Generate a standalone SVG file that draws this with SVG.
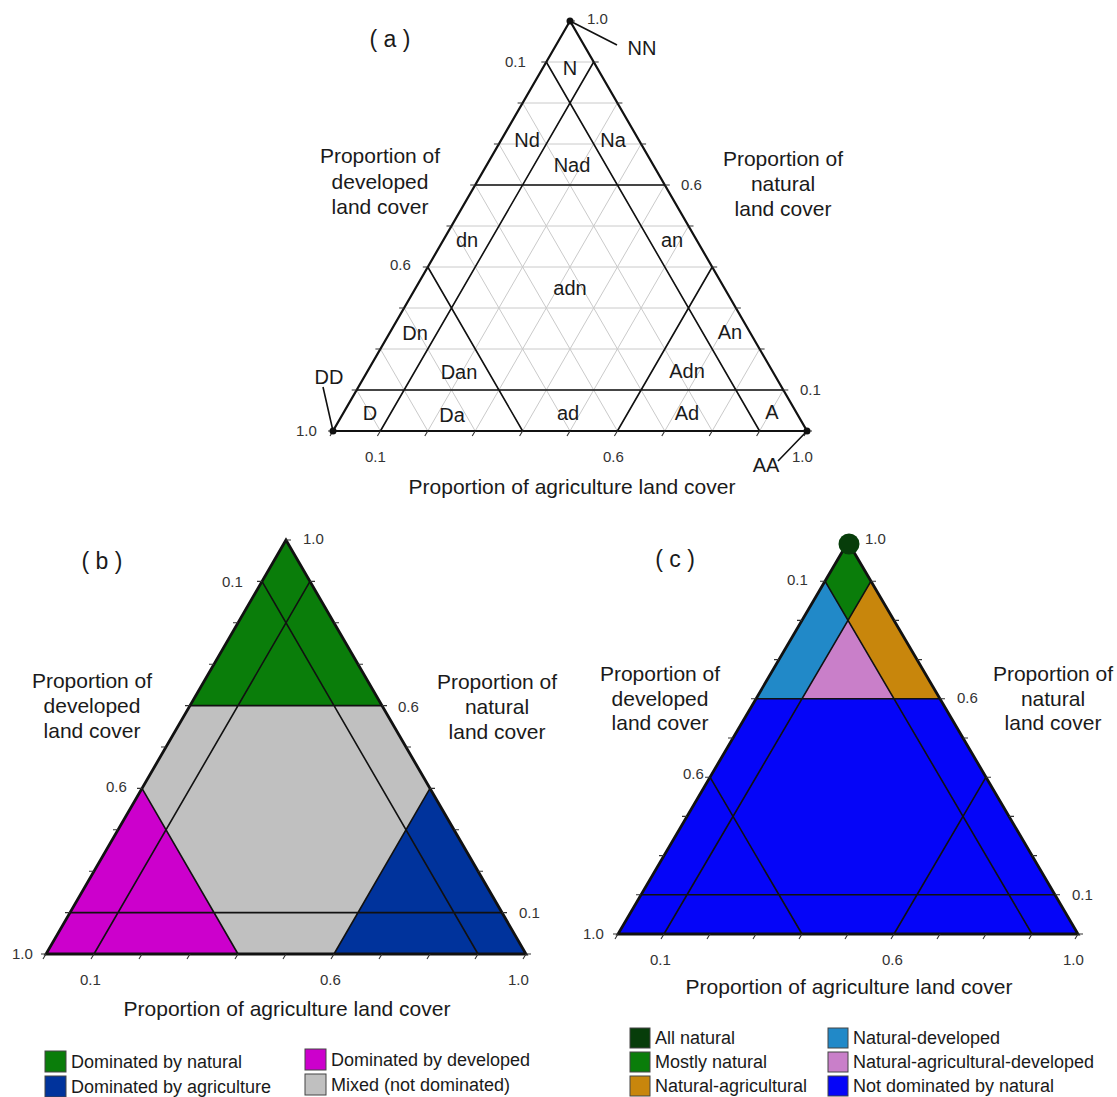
<svg xmlns="http://www.w3.org/2000/svg" width="1117" height="1097" viewBox="0 0 1117 1097">
<style>
text{font-family:"Liberation Sans",Arial,Helvetica,sans-serif;fill:#1a1a1a}
.ax{font-size:21px;text-anchor:middle}
.tk{font-size:15px;fill:#333}
.rg{font-size:20px;text-anchor:middle}
.pl{font-size:23px;text-anchor:middle}
.lg{font-size:18px}
.edge{fill:none;stroke:#111;stroke-width:2.2;stroke-linejoin:miter}
.edge2{fill:none;stroke:#111;stroke-width:2.8;stroke-linejoin:miter}
.div{fill:none;stroke:#111;stroke-width:1.6}
.grid{fill:none;stroke:#cacaca;stroke-width:1}
.tick{fill:none;stroke:#333;stroke-width:1.1}
.lead{fill:none;stroke:#111;stroke-width:1.6}
.box{stroke:#444;stroke-width:1}
</style>
<rect width="1117" height="1097" fill="#ffffff"/>

<!-- ================= Panel (a) ================= -->
<g id="panel-a">
  <g id="a-grid">
    <path class="grid" d="M356.7 390H783.3M380.4 349H759.6M404.1 308H735.9M427.8 267H712.2M451.5 226H688.5M475.2 185H664.8M498.9 144H641.1M522.6 103H617.4M546.3 62H593.7
    M380.4 431L593.7 62M427.8 431L617.4 103M475.2 431L641.1 144M522.6 431L664.8 185M570 431L688.5 226M617.4 431L712.2 267M664.8 431L735.9 308M712.2 431L759.6 349M759.6 431L783.3 390
    M759.6 431L546.3 62M712.2 431L522.6 103M664.8 431L498.9 144M617.4 431L475.2 185M570 431L451.5 226M522.6 431L427.8 267M475.2 431L404.1 308M427.8 431L380.4 349M380.4 431L356.7 390"/>
  </g>
  <g id="a-dividers">
    <path class="div" d="M356.7 390H783.3M475.2 185H664.8M380.4 431L593.7 62M617.4 431L712.2 267M759.6 431L546.3 62M522.6 431L427.8 267"/>
  </g>
  <g id="a-frame">
    <polygon class="edge" points="570,21 333,431 807,431"/>
    <path class="tick" d="M333 431h-5M356.7 390h-5M380.4 349h-5M404.1 308h-5M427.8 267h-5M451.5 226h-5M475.2 185h-5M498.9 144h-5M522.6 103h-5M546.3 62h-5
    M783.3 390h5M759.6 349h5M735.9 308h5M712.2 267h5M688.5 226h5M664.8 185h5M641.1 144h5M617.4 103h5M593.7 62h5M570 21h5M807 431h5
    M333 431l-3 5M380.4 431l-3 5M427.8 431l-3 5M475.2 431l-3 5M522.6 431l-3 5M570 431l-3 5M617.4 431l-3 5M664.8 431l-3 5M712.2 431l-3 5M759.6 431l-3 5M807 431l-3 5"/>
  </g>
  <g id="a-connectors">
    <path class="lead" d="M570 21L617 45M323 387L333 431M807 431L778 461"/>
    <circle cx="570" cy="21" r="3.5" fill="#111"/>
    <circle cx="333" cy="431" r="3.5" fill="#111"/>
    <circle cx="807" cy="431" r="3.5" fill="#111"/>
  </g>
  <g id="a-region-labels">
    <text class="rg" x="570" y="75">N</text>
    <text class="rg" x="527" y="147">Nd</text>
    <text class="rg" x="613" y="147">Na</text>
    <text class="rg" x="572" y="172">Nad</text>
    <text class="rg" x="467" y="247">dn</text>
    <text class="rg" x="672" y="247">an</text>
    <text class="rg" x="570" y="295">adn</text>
    <text class="rg" x="415" y="340">Dn</text>
    <text class="rg" x="730" y="339">An</text>
    <text class="rg" x="459" y="379">Dan</text>
    <text class="rg" x="687" y="378">Adn</text>
    <text class="rg" x="370" y="420">D</text>
    <text class="rg" x="452" y="422">Da</text>
    <text class="rg" x="568" y="420">ad</text>
    <text class="rg" x="687" y="420">Ad</text>
    <text class="rg" x="772" y="419">A</text>
    <text class="rg" x="642" y="55">NN</text>
    <text class="rg" x="329" y="384">DD</text>
    <text class="rg" x="766" y="472">AA</text>
  </g>
  <g id="a-ticklabels">
    <text class="tk" x="587" y="24">1.0</text>
    <text class="tk" x="505" y="67">0.1</text>
    <text class="tk" x="681" y="190">0.6</text>
    <text class="tk" x="390" y="270">0.6</text>
    <text class="tk" x="296" y="436">1.0</text>
    <text class="tk" x="365" y="462">0.1</text>
    <text class="tk" x="603" y="462">0.6</text>
    <text class="tk" x="792" y="462">1.0</text>
    <text class="tk" x="800" y="395">0.1</text>
  </g>
  <g id="a-titles">
    <text class="pl" x="390" y="47">( a )</text>
    <text class="ax" x="380" y="163">Proportion of</text>
    <text class="ax" x="380" y="189">developed</text>
    <text class="ax" x="380" y="214">land cover</text>
    <text class="ax" x="783" y="166">Proportion of</text>
    <text class="ax" x="783" y="191">natural</text>
    <text class="ax" x="783" y="216">land cover</text>
    <text class="ax" x="572" y="494">Proportion of agriculture land cover</text>
  </g>
</g>

<!-- ================= Panel (b) ================= -->
<g id="panel-b">
  <g id="b-regions">
    <polygon fill="#c0c0c0" points="286,540 46,954 526,954"/>
    <polygon fill="#0a7d0a" points="286,540 190,705.6 382,705.6"/>
    <polygon fill="#cc00cc" points="46,954 142,788.4 238,954"/>
    <polygon fill="#00339c" points="526,954 430,788.4 334,954"/>
  </g>
  <g id="b-dividers">
    <path class="div" d="M70 912.6H502M190 705.6H382M94 954L310 581.4M334 954L430 788.4M478 954L262 581.4M238 954L142 788.4"/>
  </g>
  <g id="b-frame">
    <polygon class="edge2" points="286,540 46,954 526,954"/>
    <path class="tick" d="M46 954h-5M70 912.6h-5M94 871.2h-5M118 829.8h-5M142 788.4h-5M166 747h-5M190 705.6h-5M214 664.2h-5M238 622.8h-5M262 581.4h-5
    M502 912.6h5M478 871.2h5M454 829.8h5M430 788.4h5M406 747h5M382 705.6h5M358 664.2h5M334 622.8h5M310 581.4h5M286 540h5M526 954h5
    M46 954l-3 5M94 954l-3 5M142 954l-3 5M190 954l-3 5M238 954l-3 5M286 954l-3 5M334 954l-3 5M382 954l-3 5M430 954l-3 5M478 954l-3 5M526 954l-3 5"/>
  </g>
  <g id="b-ticklabels">
    <text class="tk" x="303" y="544">1.0</text>
    <text class="tk" x="222" y="587">0.1</text>
    <text class="tk" x="398" y="712">0.6</text>
    <text class="tk" x="106" y="792">0.6</text>
    <text class="tk" x="12" y="959">1.0</text>
    <text class="tk" x="80" y="985">0.1</text>
    <text class="tk" x="320" y="985">0.6</text>
    <text class="tk" x="508" y="985">1.0</text>
    <text class="tk" x="519" y="918">0.1</text>
  </g>
  <g id="b-titles">
    <text class="pl" x="102" y="569">( b )</text>
    <text class="ax" x="92" y="688">Proportion of</text>
    <text class="ax" x="92" y="713">developed</text>
    <text class="ax" x="92" y="738">land cover</text>
    <text class="ax" x="497" y="689">Proportion of</text>
    <text class="ax" x="497" y="714">natural</text>
    <text class="ax" x="497" y="739">land cover</text>
    <text class="ax" x="287" y="1016">Proportion of agriculture land cover</text>
  </g>
  <g id="b-legend">
    <rect class="box" x="45" y="1051" width="21" height="21" fill="#0a7d0a"/>
    <text class="lg" x="71" y="1068">Dominated by natural</text>
    <rect class="box" x="45" y="1076" width="21" height="21" fill="#00339c"/>
    <text class="lg" x="71" y="1093">Dominated by agriculture</text>
    <rect class="box" x="305" y="1049" width="21" height="21" fill="#cc00cc"/>
    <text class="lg" x="331" y="1066">Dominated by developed</text>
    <rect class="box" x="305" y="1074" width="21" height="21" fill="#c0c0c0"/>
    <text class="lg" x="331" y="1091">Mixed (not dominated)</text>
  </g>
</g>

<!-- ================= Panel (c) ================= -->
<g id="panel-c">
  <g id="c-regions">
    <polygon fill="#0505f8" points="848,542 618,934 1078,934"/>
    <polygon fill="#0a7d0a" points="848,542 825,581.2 848,620.4 871,581.2"/>
    <polygon fill="#2189c8" points="825,581.2 848,620.4 802,698.8 756,698.8"/>
    <polygon fill="#c8860c" points="871,581.2 848,620.4 894,698.8 940,698.8"/>
    <polygon fill="#c97fc9" points="848,620.4 802,698.8 894,698.8"/>
  </g>
  <g id="c-dividers">
    <path class="div" d="M641 894.8H1055M756 698.8H940M664 934L871 581.2M894 934L986 777.2M1032 934L825 581.2M802 934L710 777.2"/>
  </g>
  <g id="c-frame">
    <polygon class="edge2" points="848,542 618,934 1078,934"/>
    <path class="tick" d="M618 934h-5M641 894.8h-5M664 855.6h-5M687 816.4h-5M710 777.2h-5M733 738h-5M756 698.8h-5M779 659.6h-5M802 620.4h-5M825 581.2h-5
    M1055 894.8h5M1032 855.6h5M1009 816.4h5M986 777.2h5M963 738h5M940 698.8h5M917 659.6h5M894 620.4h5M871 581.2h5M848 542h5M1078 934h5
    M618 934l-3 5M664 934l-3 5M710 934l-3 5M756 934l-3 5M802 934l-3 5M848 934l-3 5M894 934l-3 5M940 934l-3 5M986 934l-3 5M1032 934l-3 5M1078 934l-3 5"/>
    <circle cx="849" cy="544" r="10.5" fill="#073d0a"/>
  </g>
  <g id="c-ticklabels">
    <text class="tk" x="865" y="544">1.0</text>
    <text class="tk" x="787" y="585">0.1</text>
    <text class="tk" x="957" y="703">0.6</text>
    <text class="tk" x="683" y="779">0.6</text>
    <text class="tk" x="583" y="939">1.0</text>
    <text class="tk" x="650" y="965">0.1</text>
    <text class="tk" x="882" y="965">0.6</text>
    <text class="tk" x="1063" y="965">1.0</text>
    <text class="tk" x="1072" y="900">0.1</text>
  </g>
  <g id="c-titles">
    <text class="pl" x="675" y="567">( c )</text>
    <text class="ax" x="660" y="681">Proportion of</text>
    <text class="ax" x="660" y="706">developed</text>
    <text class="ax" x="660" y="730">land cover</text>
    <text class="ax" x="1053" y="681">Proportion of</text>
    <text class="ax" x="1053" y="706">natural</text>
    <text class="ax" x="1053" y="730">land cover</text>
    <text class="ax" x="849" y="994">Proportion of agriculture land cover</text>
  </g>
  <g id="c-legend">
    <rect class="box" x="630" y="1028" width="20" height="20" fill="#073d0a"/>
    <text class="lg" x="655" y="1044">All natural</text>
    <rect class="box" x="630" y="1052" width="20" height="20" fill="#0a7d0a"/>
    <text class="lg" x="655" y="1068">Mostly natural</text>
    <rect class="box" x="630" y="1076" width="20" height="20" fill="#c8860c"/>
    <text class="lg" x="655" y="1092">Natural-agricultural</text>
    <rect class="box" x="828" y="1028" width="20" height="20" fill="#2189c8"/>
    <text class="lg" x="853" y="1044">Natural-developed</text>
    <rect class="box" x="828" y="1052" width="20" height="20" fill="#c97fc9"/>
    <text class="lg" x="853" y="1068">Natural-agricultural-developed</text>
    <rect class="box" x="828" y="1076" width="20" height="20" fill="#0505f8"/>
    <text class="lg" x="853" y="1092">Not dominated by natural</text>
  </g>
</g>
</svg>
